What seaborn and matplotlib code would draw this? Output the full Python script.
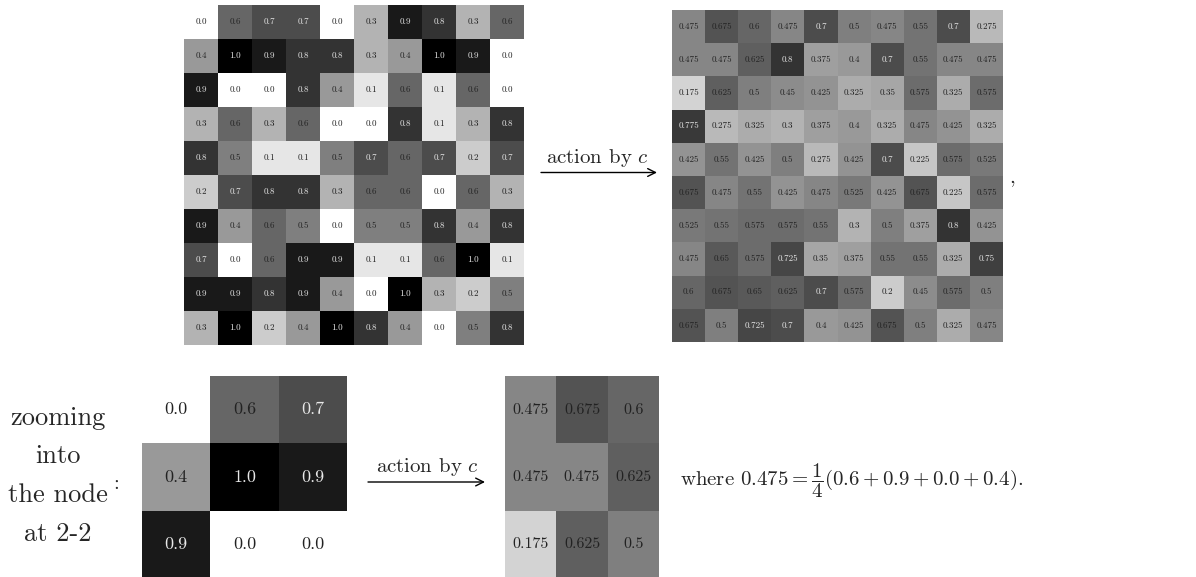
import numpy as np
import matplotlib
matplotlib.use("Agg")
import matplotlib.pyplot as plt
import seaborn as sns

# ---- data ----
grid_before = [
    [0.0, 0.6, 0.7, 0.7, 0.0, 0.3, 0.9, 0.8, 0.3, 0.6],
    [0.4, 1.0, 0.9, 0.8, 0.8, 0.3, 0.4, 1.0, 0.9, 0.0],
    [0.9, 0.0, 0.0, 0.8, 0.4, 0.1, 0.6, 0.1, 0.6, 0.0],
    [0.3, 0.6, 0.3, 0.6, 0.0, 0.0, 0.8, 0.1, 0.3, 0.8],
    [0.8, 0.5, 0.1, 0.1, 0.5, 0.7, 0.6, 0.7, 0.2, 0.7],
    [0.2, 0.7, 0.8, 0.8, 0.3, 0.6, 0.6, 0.0, 0.6, 0.3],
    [0.9, 0.4, 0.6, 0.5, 0.0, 0.5, 0.5, 0.8, 0.4, 0.8],
    [0.7, 0.0, 0.6, 0.9, 0.9, 0.1, 0.1, 0.6, 1.0, 0.1],
    [0.9, 0.9, 0.8, 0.9, 0.4, 0.0, 1.0, 0.3, 0.2, 0.5],
    [0.3, 1.0, 0.2, 0.4, 1.0, 0.8, 0.4, 0.0, 0.5, 0.8],
]
grid_after = [
    [0.475, 0.675, 0.6, 0.475, 0.7, 0.5, 0.475, 0.55, 0.7, 0.275],
    [0.475, 0.475, 0.625, 0.8, 0.375, 0.4, 0.7, 0.55, 0.475, 0.475],
    [0.175, 0.625, 0.5, 0.45, 0.425, 0.325, 0.35, 0.575, 0.325, 0.575],
    [0.775, 0.275, 0.325, 0.3, 0.375, 0.4, 0.325, 0.475, 0.425, 0.325],
    [0.425, 0.55, 0.425, 0.5, 0.275, 0.425, 0.7, 0.225, 0.575, 0.525],
    [0.675, 0.475, 0.55, 0.425, 0.475, 0.525, 0.425, 0.675, 0.225, 0.575],
    [0.525, 0.55, 0.575, 0.575, 0.55, 0.3, 0.5, 0.375, 0.8, 0.425],
    [0.475, 0.65, 0.575, 0.725, 0.35, 0.375, 0.55, 0.55, 0.325, 0.75],
    [0.6, 0.675, 0.65, 0.625, 0.7, 0.575, 0.2, 0.45, 0.575, 0.5],
    [0.675, 0.5, 0.725, 0.7, 0.4, 0.425, 0.675, 0.5, 0.325, 0.475],
]
zoom_before = [
    [0.0, 0.6, 0.7],
    [0.4, 1.0, 0.9],
    [0.9, 0.0, 0.0],
]
zoom_after = [
    [0.475, 0.675, 0.6],
    [0.475, 0.475, 0.625],
    [0.175, 0.625, 0.5],
]
arrow_label = r"action by $c$"
side_label_lines = ["zooming", "into", "the node", "at 2-2"]
formula = r"where $0.475 = \dfrac{1}{4}(0.6 + 0.9 + 0.0 + 0.4)$."

# ---- style ----
sns.set_style("white")
plt.rcParams["font.family"] = ["cmr10", "DejaVu Serif"]
plt.rcParams["mathtext.fontset"] = "cm"
plt.rcParams["axes.unicode_minus"] = False
plt.rcParams["axes.formatter.use_mathtext"] = True

W, H = 1196, 577
fig = plt.figure(figsize=(W / 100, H / 100), dpi=100)


def add_ax(x0, y0, x1, y1):
    return fig.add_axes([x0 / W, 1 - y1 / H, (x1 - x0) / W, (y1 - y0) / H])


def fx(x):
    return x / W


def fy(y):
    return 1 - y / H


def draw_heat(ax, data, fmt, size):
    arr = np.array(data, dtype=float)
    sns.heatmap(arr, ax=ax, cmap="gray_r", vmin=0, vmax=1, annot=True, fmt=fmt,
                cbar=False, xticklabels=False, yticklabels=False,
                annot_kws={"size": size})
    for t, v in zip(ax.texts, arr.flat):
        t.set_color("#e8e8e8" if v >= 0.7 else "#222222")
    ax.set_axis_off()


draw_heat(add_ax(184, 5, 524, 345), grid_before, ".1f", 6.5)
draw_heat(add_ax(672, 10, 1003, 342), grid_after, "g", 6.5)
draw_heat(add_ax(142, 376, 347, 578), zoom_before, ".1f", 13)
draw_heat(add_ax(505, 376, 659, 578), zoom_after, "g", 11.5)


def arrow(x0, x1, y, tx, ty):
    fig.text(fx(tx), fy(ty), arrow_label, ha="center", va="baseline", fontsize=15)
    fig.add_artist(matplotlib.patches.FancyArrowPatch(
        (fx(x0), fy(y)), (fx(x1), fy(y)), transform=fig.transFigure,
        arrowstyle="->", mutation_scale=14, lw=1.0, color="black",
        shrinkA=0, shrinkB=0))


arrow(541, 657, 172.5, 597, 163)
arrow(368, 485, 482, 427, 472)

fig.text(fx(1012), fy(183), ",", ha="center", va="baseline", fontsize=15)

for line, yb in zip(side_label_lines, [425, 463, 502, 541]):
    fig.text(fx(58), fy(yb), line, ha="center", va="baseline", fontsize=19)
fig.text(fx(116), fy(489), ":", ha="center", va="baseline", fontsize=15)

fig.text(fx(680), fy(486), formula, ha="left", va="baseline", fontsize=15)

fig.savefig("out.png", dpi=100)
